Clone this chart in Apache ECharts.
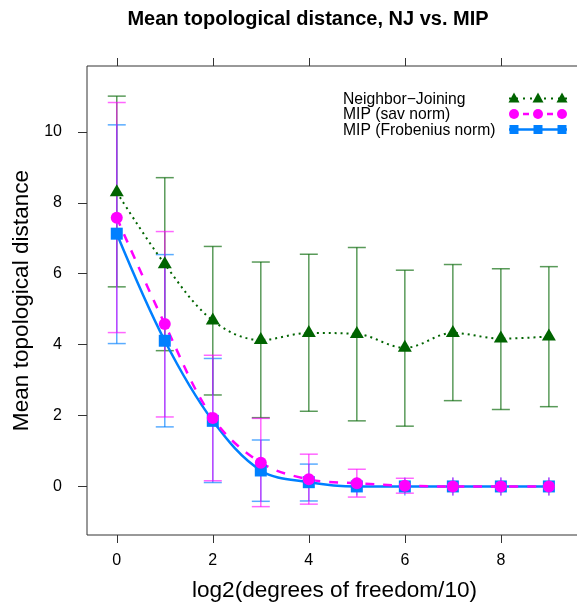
<!DOCTYPE html>
<html>
<head>
<meta charset="utf-8">
<script src="https://cdn.jsdelivr.net/npm/echarts@6/dist/echarts.min.js"></script>
<style>
html,body{margin:0;padding:0;background:#fff;}
#chart{width:577px;height:611px;}
</style>
</head>
<body>
<div id="chart"></div>
<script>
// ---- data ----
const xs = [0, 1, 2, 3, 4, 5, 6, 7, 8, 9];
const xTicks = [0, 2, 4, 6, 8];
const yTicks = [0, 2, 4, 6, 8, 10];

const njMean  = [8.30, 6.27, 4.68, 4.13, 4.33, 4.30, 3.91, 4.33, 4.17, 4.23];
const njLower = [5.63, 3.83, 2.58, 1.94, 2.12, 1.85, 1.70, 2.42, 2.17, 2.25];
const njUpper = [11.01, 8.71, 6.77, 6.33, 6.55, 6.74, 6.10, 6.26, 6.14, 6.20];

const savMean  = [7.58, 4.58, 1.93, 0.67, 0.20, 0.09, 0.02, 0, 0, 0];
const savLower = [4.34, 1.96, 0.16, -0.57, -0.50, -0.30, -0.19, 0, 0, 0];
const savUpper = [10.83, 7.19, 3.70, 1.92, 0.91, 0.485, 0.23, 0, 0, 0];

const frobMean  = [7.13, 4.11, 1.85, 0.45, 0.12, 0, 0, 0, 0, 0];
const frobLower = [4.03, 1.68, 0.11, -0.42, -0.41, 0, 0, 0, 0, 0];
const frobUpper = [10.20, 6.54, 3.61, 1.31, 0.63, 0, 0, 0, 0, 0];

const seriesNames = ['Neighbor\u2212Joining', 'MIP (sav norm)', 'MIP (Frobenius norm)'];
const titleText = 'Mean topological distance, NJ vs. MIP';
const xName = 'log2(degrees of freedom/10)';
const yName = 'Mean topological distance';

// ---- styling ----
const FONT = '"Liberation Sans", Arial, Helvetica, sans-serif';
const cGreen = '#006400', cMag = '#ff00ff', cBlue = '#0080ff';
const eGreen = 'rgba(0,100,0,0.65)', eMag = 'rgba(255,0,255,0.6)', eBlue = 'rgba(0,128,255,0.65)';
const axisCol = '#333';

const pts = (m) => xs.map((x, i) => [x, m[i]]);
const errs = (lo, hi) => xs.map((x, i) => [x, lo[i], hi[i]]);

function errRender(color) {
  return function (params, api) {
    const x = api.value(0), lo = api.value(1), hi = api.value(2);
    const a = api.coord([x, lo]), b = api.coord([x, hi]);
    const cap = 9;
    const style = { stroke: color, lineWidth: 1.5, fill: null };
    if (hi === lo) {
      return { type: 'line', shape: { x1: a[0], y1: a[1] - cap, x2: a[0], y2: a[1] + cap }, style: style };
    }
    return {
      type: 'group',
      children: [
        { type: 'line', shape: { x1: a[0], y1: a[1], x2: b[0], y2: b[1] }, style: style },
        { type: 'line', shape: { x1: a[0] - cap, y1: a[1], x2: a[0] + cap, y2: a[1] }, style: style },
        { type: 'line', shape: { x1: b[0] - cap, y1: b[1], x2: b[0] + cap, y2: b[1] }, style: style }
      ]
    };
  };
}

const chart = echarts.init(document.getElementById('chart'), null, { renderer: 'canvas' });

// legend drawn as graphics (three markers on a line sample, like lattice)
const LX = 343, LS = 509, LE = 567, LM = [514, 538, 562];
const LY = [98.5, 114, 129.5];
function legendGroup() {
  const ch = [];
  seriesNames.forEach((n, i) => {
    ch.push({ type: 'text', x: LX, y: LY[i] + 1, style: { text: n, fontSize: 15.7, fontFamily: FONT, fill: '#000', align: 'left', verticalAlign: 'middle' } });
  });
  ch.push({ type: 'line', shape: { x1: LS, y1: LY[0], x2: LE, y2: LY[0] }, style: { stroke: cGreen, lineWidth: 2, lineDash: [2, 5] } });
  LM.forEach(mx => ch.push({ type: 'polygon', shape: { points: [[mx, LY[0] - 6], [mx + 5.5, LY[0] + 4], [mx - 5.5, LY[0] + 4]] }, style: { fill: cGreen } }));
  ch.push({ type: 'line', shape: { x1: LS, y1: LY[1], x2: LE, y2: LY[1] }, style: { stroke: cMag, lineWidth: 2.5, lineDash: [6, 6], lineDashOffset: -2 } });
  LM.forEach(mx => ch.push({ type: 'circle', shape: { cx: mx, cy: LY[1], r: 5 }, style: { fill: cMag } }));
  ch.push({ type: 'line', shape: { x1: LS, y1: LY[2], x2: LE, y2: LY[2] }, style: { stroke: cBlue, lineWidth: 2.5 } });
  LM.forEach(mx => ch.push({ type: 'rect', shape: { x: mx - 4.5, y: LY[2] - 4.5, width: 9, height: 9 }, style: { fill: cBlue } }));
  return { type: 'group', children: ch, z: 100 };
}

const xMin = -0.62, xMax = 9.69, yMin = -1.37, yMax = 11.86;

const option = {
  animation: false,
  backgroundColor: '#fff',
  textStyle: { fontFamily: FONT },
  grid: { left: 87, top: 66, width: 495, height: 469, show: true, borderColor: axisCol, borderWidth: 1, containLabel: false, outerBoundsMode: 'none' },
  graphic: [
    { type: 'text', x: 308, y: 19, style: { text: titleText, fontSize: 20, fontWeight: 'bold', fontFamily: FONT, fill: '#000', align: 'center', verticalAlign: 'middle' } },
    legendGroup()
  ],
  xAxis: [
    {
      type: 'value', position: 'bottom', min: xMin, max: xMax,
      name: xName, nameLocation: 'middle', nameGap: 44,
      nameTextStyle: { fontSize: 22.6, color: '#000', fontFamily: FONT },
      axisLine: { show: false, onZero: false }, splitLine: { show: false },
      axisTick: { show: true, inside: false, length: 8, lineStyle: { color: axisCol }, customValues: xTicks },
      axisLabel: { show: true, margin: 18, fontSize: 16, color: '#000', fontFamily: FONT, customValues: xTicks }
    },
    {
      type: 'value', position: 'top', min: xMin, max: xMax,
      axisLine: { show: false, onZero: false }, splitLine: { show: false },
      axisTick: { show: true, inside: false, length: 8, lineStyle: { color: axisCol }, customValues: xTicks },
      axisLabel: { show: false }
    }
  ],
  yAxis: [
    {
      type: 'value', position: 'left', min: yMin, max: yMax,
      name: yName, nameLocation: 'middle', nameGap: 46,
      nameTextStyle: { fontSize: 22.6, color: '#000', fontFamily: FONT },
      axisLine: { show: false, onZero: false }, splitLine: { show: false },
      axisTick: { show: true, inside: false, length: 9, lineStyle: { color: axisCol }, customValues: yTicks },
      axisLabel: { show: true, margin: 25, fontSize: 16, color: '#000', fontFamily: FONT, customValues: yTicks }
    }
  ],
  series: [
    { name: 'njErr', type: 'custom', xAxisIndex: 0, yAxisIndex: 0, renderItem: errRender(eGreen), data: errs(njLower, njUpper), encode: { x: 0, y: [1, 2] }, silent: true },
    { name: 'frobErr', type: 'custom', xAxisIndex: 0, yAxisIndex: 0, renderItem: errRender(eBlue), data: errs(frobLower, frobUpper), encode: { x: 0, y: [1, 2] }, silent: true },
    { name: 'savErr', type: 'custom', xAxisIndex: 0, yAxisIndex: 0, renderItem: errRender(eMag), data: errs(savLower, savUpper), encode: { x: 0, y: [1, 2] }, silent: true },
    {
      name: seriesNames[0], type: 'line', data: pts(njMean), smooth: 0.35,
      symbol: 'triangle', symbolSize: [14, 12], symbolOffset: [0, -2], showAllSymbol: true,
      lineStyle: { color: cGreen, width: 2, type: [2, 4] }, itemStyle: { color: cGreen }
    },
    {
      name: seriesNames[2], type: 'line', data: pts(frobMean), smooth: 0.35,
      symbol: 'rect', symbolSize: 12, showAllSymbol: true,
      lineStyle: { color: cBlue, width: 2.5 }, itemStyle: { color: cBlue }
    },
    {
      name: seriesNames[1], type: 'line', data: pts(savMean), smooth: 0.35,
      symbol: 'circle', symbolSize: 12, showAllSymbol: true,
      lineStyle: { color: cMag, width: 2.5, type: [9, 9] }, itemStyle: { color: cMag }
    }
  ]
};
chart.setOption(option);
</script>
</body>
</html>
